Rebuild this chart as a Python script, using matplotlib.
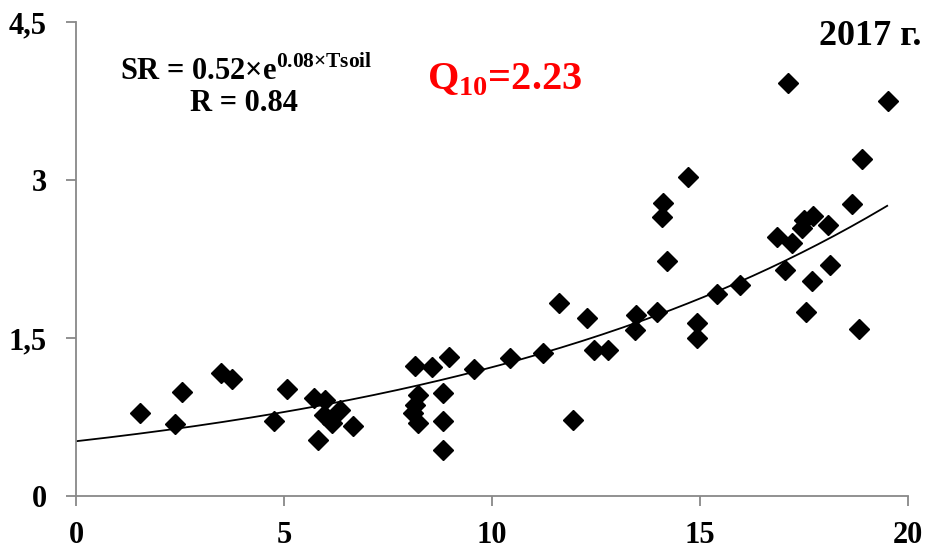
import matplotlib
matplotlib.use("Agg")
import matplotlib.pyplot as plt
import numpy as np

# soil temperature (x) and soil respiration (y)
t_soil = [1.54, 2.54, 2.38, 3.49, 3.74, 5.08, 4.76, 5.72, 5.99, 6.35,
          5.95, 6.15, 6.67, 5.82, 8.15, 8.55, 8.97, 9.57, 10.43, 11.23,
          11.62, 12.28, 12.46, 12.80, 13.46, 13.44, 13.97, 14.92, 14.92, 8.23,
          8.15, 8.11, 8.23, 8.83, 8.83, 8.83, 11.94, 17.12, 19.53, 18.90,
          14.72, 14.12, 14.09, 14.20, 18.66, 16.84, 17.20, 17.45, 17.50, 17.72,
          18.08, 17.04, 18.13, 17.70, 17.56, 18.82, 15.96, 15.40]
sr = [0.79, 0.99, 0.68, 1.17, 1.11, 1.02, 0.71, 0.93, 0.91, 0.82,
      0.77, 0.69, 0.66, 0.53, 1.23, 1.22, 1.32, 1.21, 1.31, 1.36,
      1.83, 1.69, 1.39, 1.39, 1.72, 1.58, 1.75, 1.64, 1.50, 0.96,
      0.86, 0.79, 0.69, 0.98, 0.71, 0.44, 0.72, 3.92, 3.75, 3.20,
      3.03, 2.78, 2.65, 2.23, 2.77, 2.46, 2.40, 2.54, 2.62, 2.66,
      2.57, 2.15, 2.19, 2.04, 1.75, 1.59, 2.00, 1.92]

# exponential fit SR = a * exp(b * T)
fit_a = 0.52
fit_b = 0.0855
fit_x_max = 19.5

x_ticks = [0, 5, 10, 15, 20]
x_labels = ["0", "5", "10", "15", "20"]
y_ticks = [0, 1.5, 3, 4.5]
y_labels = ["0", "1,5", "3", "4,5"]

serif = "Liberation Serif"
plt.rcParams["font.family"] = serif

fig = plt.figure(figsize=(9.35, 5.51), dpi=100)
ax = fig.add_axes([0.0813, 0.0998, 0.8898, 0.8603])

ax.plot(t_soil, sr, linestyle="none", marker="D", markersize=10,
        color="black", zorder=3)

xf = np.linspace(0, fit_x_max, 200)
ax.plot(xf, fit_a * np.exp(fit_b * xf), color="black", lw=1.3, zorder=2)

ax.set_xlim(0, 20)
ax.set_ylim(0, 4.5)
ax.set_xticks(x_ticks)
ax.set_xticklabels(x_labels)
ax.set_yticks(y_ticks)
ax.set_yticklabels(y_labels)

for side in ["top", "right"]:
    ax.spines[side].set_visible(False)
for side in ["left", "bottom"]:
    ax.spines[side].set_color("#888888")
    ax.spines[side].set_linewidth(1.3)

ax.tick_params(axis="both", direction="out", length=7, width=1.3,
               color="#888888", labelsize=22)
ax.tick_params(axis="x", pad=11)
ax.tick_params(axis="y", pad=14)
for lab in ax.get_xticklabels() + ax.get_yticklabels():
    lab.set_fontweight("bold")

fig.text(0.986, 0.933, "2017 г.", ha="right", va="center",
         fontsize=26, fontweight="bold")
fig.text(0.128, 0.87, r"SR = 0.52×e$^{\mathregular{0.08×Tsoil}}$",
         ha="left", va="center", fontsize=22, fontweight="bold")
fig.text(0.203, 0.813, "R = 0.84", ha="left", va="center",
         fontsize=22, fontweight="bold")
fig.text(0.457, 0.855, r"Q$_{\mathregular{10}}$=2.23", ha="left",
         va="center", fontsize=29, fontweight="bold", color="#ff0000")

fig.savefig("out.png", dpi=100)
